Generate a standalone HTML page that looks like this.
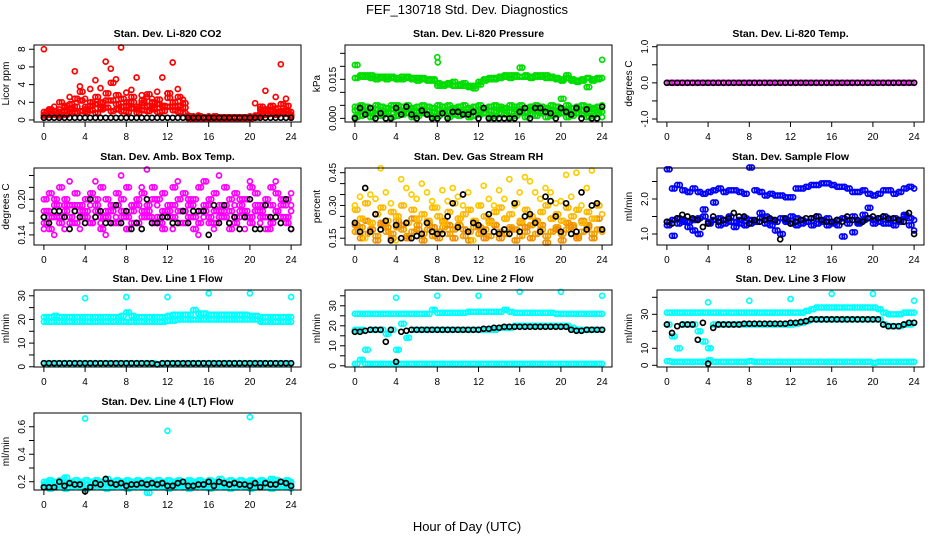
<!DOCTYPE html>
<html><head><meta charset="utf-8"><style>
html,body{margin:0;padding:0;background:#fff;}
svg{display:block;font-family:"Liberation Sans",Arial,sans-serif;}
</style></head><body>
<svg id="chart" width="936" height="540" viewBox="0 0 936 540" xmlns="http://www.w3.org/2000/svg">
<text x="467" y="14" font-size="13" text-anchor="middle">FEF_130718  Std. Dev. Diagnostics</text>
<text x="467" y="531" font-size="13" text-anchor="middle">Hour of Day (UTC)</text>
</svg>
<script>
const hours=[0,0.5,1,1.5,2,2.5,3,3.5,4,4.5,5,5.5,6,6.5,7,7.5,8,8.5,9,9.5,10,10.5,11,11.5,12,12.5,13,13.5,14,14.5,15,15.5,16,16.5,17,17.5,18,18.5,19,19.5,20,20.5,21,21.5,22,22.5,23,23.5,24];
const outHours=[4,8,12,16,20,24];
const xTicks=[0,4,8,12,16,20,24];

const co2Red1=[8,1.0,1.5,1.2,1.4,2.6,5.5,3.8,2.4,3.5,4.5,3.6,6.6,5.8,4.6,8.2,3.1,3.4,4.8,2.8,2.6,2.4,3.2,4.8,3.0,6.5,3.5,2.3,0.5,0.4,0.5,0.3,0.4,0.3,0.3,0.3,0.3,0.3,0.3,0.3,0.4,1.9,1.2,3.3,1.5,2.6,6.3,2.4,0.9];
const co2Red2=[0.6,0.8,1.0,0.9,1.0,1.8,1.5,2.2,1.5,2.0,1.8,2.0,3.0,2.2,1.8,2.4,1.6,2.0,1.5,1.9,1.6,2.0,1.8,1.6,3.0,2.0,1.6,1.4,0.3,0.3,0.4,0.3,0.3,0.4,0.3,0.3,0.3,0.3,0.3,0.3,0.3,0.5,0.8,1.2,1.0,1.3,1.0,1.6,0.6];
const co2Red3=[0.5,0.6,0.7,0.5,0.6,0.9,0.8,1.0,0.9,1.1,0.8,1.2,1.4,1.0,1.2,1.0,0.9,1.3,0.8,1.1,1.0,1.2,0.9,1.0,1.5,1.1,0.9,0.8,0.2,0.2,0.2,0.2,0.2,0.2,0.2,0.2,0.2,0.2,0.2,0.2,0.2,0.3,0.5,0.6,0.7,0.6,0.8,0.7,0.4];
const co2Red4=[0.9,1.2,0.6,2.0,1.6,1.2,2.4,3.2,1.2,1.6,2.6,1.4,2.2,4.2,2.8,1.5,2.0,2.6,1.2,2.2,2.9,1.4,2.3,1.5,2.5,1.5,2.6,1.9,0.4,0.3,0.3,0.3,0.3,0.3,0.3,0.3,0.3,0.3,0.3,0.3,0.3,0.3,1.5,1.0,1.6,0.9,1.8,1.0,0.5];
const co2Black=[0.25,0.25,0.25,0.25,0.25,0.25,0.25,0.25,0.25,0.25,0.25,0.25,0.25,0.25,0.25,0.25,0.25,0.25,0.25,0.25,0.25,0.25,0.25,0.25,0.25,0.25,0.25,0.25,0.25,0.25,0.25,0.25,0.25,0.25,0.25,0.25,0.25,0.25,0.25,0.25,0.25,0.25,0.25,0.25,0.25,0.25,0.25,0.25,0.25];

const presG1=[0.0205,0.0165,0.016,0.0165,0.016,0.0155,0.016,0.0155,0.015,0.016,0.0155,0.015,0.0155,0.015,0.015,0.0145,0.0125,0.013,0.0135,0.014,0.0125,0.0125,0.012,0.0115,0.014,0.015,0.015,0.0155,0.0155,0.016,0.0165,0.0165,0.0195,0.016,0.016,0.0165,0.016,0.0165,0.0155,0.015,0.0145,0.0165,0.0145,0.0145,0.0145,0.012,0.015,0.0155,0.0225];
const presG1b=[0.0155,0.016,0.0165,0.0155,0.015,0.016,0.015,0.016,0.0155,0.015,0.016,0.0155,0.0145,0.0155,0.0145,0.015,0.0135,0.0125,0.013,0.0125,0.013,0.0135,0.0125,0.0125,0.013,0.0145,0.0155,0.015,0.016,0.0165,0.0155,0.016,0.016,0.0165,0.0155,0.016,0.0165,0.0155,0.016,0.0155,0.015,0.0155,0.015,0.014,0.015,0.0155,0.0145,0.015,0.0155];
const presG2=[0.0045,0.005,0.0045,0.004,0.005,0.0045,0.004,0.005,0.005,0.0045,0.005,0.004,0.0045,0.005,0.0045,0.004,0.005,0.0045,0.005,0.004,0.0045,0.005,0.004,0.0045,0.005,0.004,0.0045,0.005,0.0045,0.004,0.005,0.0045,0.005,0.004,0.0045,0.005,0.0045,0.004,0.005,0.0045,0.0075,0.005,0.004,0.0045,0.005,0.0045,0.004,0.0045,0.005];
const presG3=[0.0005,0.001,0.002,0.0005,0.0015,0.001,0.002,0.0005,0.001,0.0015,0.002,0.0005,0.001,0.002,0.0015,0.0005,0.001,0.002,0.0005,0.0015,0.001,0.002,0.0005,0.001,0.0015,0.002,0.0005,0.001,0.002,0.0015,0.0005,0.001,0.002,0.0005,0.0015,0.001,0.002,0.0005,0.001,0.0015,0.002,0.0005,0.001,0.002,0.0015,0.0005,0.001,0.002,0.0005];
const presG4=[0.003,0.0035,0.003,0.0025,0.0035,0.003,0.0025,0.0035,0.003,0.0025,0.0035,0.003,0.0025,0.0035,0.003,0.0025,0.0035,0.003,0.0025,0.0035,0.003,0.0025,0.0035,0.003,0.0025,0.0035,0.003,0.0025,0.0035,0.003,0.0025,0.0035,0.003,0.0025,0.0035,0.003,0.0025,0.0035,0.003,0.0025,0.0035,0.003,0.0025,0.0035,0.003,0.0025,0.0035,0.003,0.0025];
const presOutHours=[8,8.05];
const presOut=[0.0235,0.0215];
const presBlack=[0,0.004,0.0015,0.004,0,0.002,0,0,0.004,0.0015,0.0045,0.0015,0,0.003,0.0015,0,0,0.002,0,0.0025,0.0025,0.0015,0.0015,0.0025,0,0.004,0,0,0,0,0,0,0.0025,0.004,0,0.004,0.004,0.0025,0.002,0,0.004,0.0025,0.0015,0.004,0,0.0035,0,0,0.0045];

const tempMag=[0,0,0,0,0,0,0,0,0,0,0,0,0,0,0,0,0,0,0,0,0,0,0,0,0,0,0,0,0,0,0,0,0,0,0,0,0,0,0,0,0,0,0,0,0,0,0,0,0];
const tempBlack=[0,0,0,0,0,0,0,0,0,0,0,0,0,0,0,0,0,0,0,0,0,0,0,0,0,0,0,0,0,0,0,0,0,0,0,0,0,0,0,0,0,0,0,0,0,0,0,0,0];

const ambM1=[0.20,0.21,0.19,0.22,0.20,0.19,0.21,0.19,0.20,0.21,0.19,0.22,0.20,0.19,0.21,0.20,0.22,0.19,0.20,0.21,0.19,0.22,0.20,0.21,0.19,0.22,0.20,0.21,0.19,0.20,0.22,0.23,0.20,0.21,0.19,0.22,0.20,0.21,0.19,0.20,0.22,0.21,0.19,0.20,0.22,0.21,0.19,0.20,0.21];
const ambM2=[0.16,0.15,0.17,0.16,0.18,0.17,0.16,0.18,0.17,0.16,0.18,0.15,0.17,0.18,0.16,0.17,0.15,0.18,0.16,0.17,0.18,0.16,0.17,0.15,0.18,0.17,0.16,0.18,0.17,0.15,0.16,0.18,0.17,0.16,0.18,0.17,0.15,0.16,0.18,0.17,0.16,0.18,0.17,0.15,0.16,0.18,0.17,0.16,0.18];
const ambM3=[0.15,0.18,0.14,0.19,0.15,0.23,0.18,0.15,0.17,0.19,0.23,0.16,0.14,0.19,0.17,0.24,0.15,0.19,0.16,0.22,0.25,0.17,0.19,0.16,0.18,0.15,0.23,0.18,0.16,0.19,0.14,0.17,0.19,0.15,0.24,0.18,0.16,0.19,0.17,0.15,0.23,0.18,0.16,0.19,0.15,0.23,0.17,0.19,0.15];
const ambM4=[0.18,0.17,0.20,0.17,0.19,0.16,0.19,0.17,0.18,0.16,0.20,0.17,0.18,0.16,0.19,0.18,0.17,0.16,0.19,0.18,0.17,0.20,0.16,0.18,0.17,0.19,0.18,0.16,0.20,0.17,0.18,0.19,0.16,0.18,0.17,0.19,0.18,0.17,0.20,0.18,0.17,0.19,0.18,0.17,0.19,0.18,0.20,0.17,0.19];
const ambBlack=[0.17,0.16,0.18,0.18,0.17,0.15,0.18,0.17,0.16,0.20,0.17,0.18,0.16,0.16,0.19,0.16,0.18,0.15,0.16,0.15,0.20,0.16,0.16,0.17,0.17,0.16,0.16,0.18,0.16,0.18,0.18,0.18,0.14,0.19,0.16,0.19,0.16,0.17,0.15,0.17,0.20,0.15,0.15,0.19,0.17,0.17,0.16,0.20,0.15];

const rhO1=[0.18,0.20,0.17,0.19,0.16,0.21,0.18,0.17,0.20,0.19,0.16,0.18,0.21,0.17,0.19,0.16,0.18,0.20,0.17,0.19,0.21,0.16,0.18,0.20,0.17,0.19,0.16,0.21,0.18,0.17,0.20,0.19,0.16,0.18,0.21,0.17,0.19,0.16,0.18,0.20,0.17,0.19,0.21,0.16,0.18,0.20,0.17,0.19,0.18];
const rhO2=[0.28,0.24,0.31,0.22,0.26,0.29,0.23,0.27,0.25,0.30,0.22,0.28,0.24,0.26,0.23,0.29,0.25,0.22,0.27,0.31,0.24,0.26,0.28,0.23,0.30,0.25,0.22,0.27,0.29,0.24,0.26,0.31,0.23,0.28,0.25,0.22,0.27,0.30,0.24,0.26,0.23,0.29,0.25,0.28,0.22,0.27,0.24,0.30,0.26];
const rhO3=[0.30,0.34,0.15,0.35,0.33,0.47,0.36,0.31,0.14,0.42,0.38,0.35,0.33,0.40,0.36,0.32,0.29,0.37,0.32,0.38,0.34,0.30,0.36,0.14,0.30,0.39,0.33,0.30,0.37,0.33,0.42,0.30,0.36,0.43,0.41,0.36,0.33,0.38,0.36,0.31,0.32,0.44,0.34,0.45,0.30,0.38,0.46,0.31,0.19];
const rhO4=[0.21,0.15,0.23,0.19,0.14,0.22,0.20,0.15,0.23,0.21,0.15,0.24,0.19,0.14,0.22,0.20,0.15,0.23,0.21,0.15,0.24,0.19,0.14,0.22,0.20,0.15,0.23,0.21,0.15,0.24,0.19,0.14,0.22,0.20,0.15,0.23,0.21,0.13,0.24,0.19,0.14,0.22,0.20,0.15,0.23,0.21,0.15,0.24,0.19];
const rhBlack=[0.22,0.18,0.38,0.18,0.26,0.19,0.23,0.14,0.21,0.15,0.22,0.15,0.16,0.17,0.22,0.18,0.17,0.17,0.25,0.31,0.20,0.35,0.18,0.22,0.21,0.18,0.26,0.18,0.17,0.19,0.17,0.31,0.18,0.25,0.26,0.22,0.18,0.34,0.32,0.25,0.18,0.31,0.17,0.18,0.36,0.19,0.30,0.31,0.19];

const flowB1=[2.85,2.3,2.4,2.25,2.2,2.3,2.2,2.15,2.2,2.25,2.3,2.2,2.25,2.25,2.2,2.15,2.9,2.25,2.2,2.1,2.15,2.1,2.1,2.05,2.05,2.3,2.3,2.35,2.4,2.4,2.45,2.45,2.4,2.35,2.35,2.3,2.2,2.2,2.25,2.15,2.1,2.15,2.25,2.25,2.15,2.2,2.3,2.35,2.3];
const flowB2=[1.35,1.4,1.45,1.4,1.35,1.4,1.45,1.5,1.35,1.4,1.45,1.4,1.5,1.35,1.4,1.45,1.4,1.35,1.45,1.5,1.4,1.35,1.45,1.4,1.5,1.45,1.4,1.35,1.45,1.5,1.4,1.45,1.35,1.4,1.45,1.4,1.5,1.35,1.4,1.45,1.4,1.45,1.5,1.4,1.45,1.4,1.5,1.45,1.4];
const flowB3=[1.25,0.95,1.3,1.35,1.2,1.1,1.0,1.7,1.3,1.9,1.25,1.3,1.35,1.2,1.3,1.25,1.3,1.35,1.6,1.3,1.25,1.1,1.0,1.35,1.3,1.25,1.3,1.35,1.25,1.3,1.35,1.25,1.3,1.25,0.93,1.3,1.05,1.3,1.55,1.75,1.3,1.35,1.3,1.3,1.25,1.35,1.55,1.25,1.1];
const flowBlack=[1.35,1.3,1.45,1.55,1.5,1.45,1.4,1.2,1.3,1.5,1.35,1.4,1.45,1.6,1.5,1.5,1.3,1.4,1.35,1.4,1.45,1.4,0.85,1.45,1.3,1.35,1.4,1.45,1.45,1.5,1.4,1.35,1.35,1.4,1.35,1.5,1.4,1.4,1.35,1.45,1.5,1.45,1.5,1.45,1.45,1.4,1.35,1.6,1.0];

const l1C1=[21,21,21.5,21,21,21,21,21,21,21,21,21,21,21,21,21.5,23,21.5,21,21,21,21,21,21,21.5,22,22,22,22,24,22.5,22.5,22,22,22,22,22,22,22,22,21.5,21.5,21,21,21,21,21,21,21];
const l1C2=[19,19,19,19,19,19,19,19,19,19,19,19,19,19,19,19,19,19,19,19,19,19,19,19,19.5,19.5,20,20,20,20,20,20,20,20,20,20,20,20,20,20,20,20,19,19,19,19,19,19,19];
const l1C3=[1.5,1.5,1.5,1.5,1.5,1.5,1.5,1.5,1.5,1.5,1.5,1.5,1.5,1.5,1.5,1.5,1.5,1.5,1.5,1.5,1.5,1.5,1,1.5,1.5,1.5,1.5,1.5,1.5,1.5,1.5,1.5,1.5,1.5,1.5,1.5,1.5,1.5,1.5,1.5,1.5,1.5,1.5,1.5,1.5,1.5,1.5,1.5,1.5];
const l1Out=[29,29.5,29.5,31,31,29.5];
const l1Black=[1.5,1.5,1.5,1.5,1.5,1.5,1.5,1.5,1.5,1.5,1.5,1.5,1.5,1.5,1.5,1.5,1.5,1.5,1.5,1.5,1.5,1.5,1,1.5,1.5,1.5,1.5,1.5,1.5,1.5,1.5,1.5,1.5,1.5,1.5,1.5,1.5,1.5,1.5,1.5,1.5,1.5,1.5,1.5,1.5,1.5,1.5,1.5,1.5];

const l2C1=[26,26,26,26,26,26,26,26,26,26,26,26,26,26,26,28,26.5,26.5,26.5,26.5,26.5,26.5,27,27,27,27,27,27,27,28,27,26.5,26.5,26.5,26.5,26.5,26.5,26.5,26.5,26,26,26,26,26,26,26,26,26,26];
const l2C2=[18,18,8,18,18,18,16,18,8,21,14,18,18,18,18,18,18,18,18,18,18,18,18,18,18,18,18,18,19,19,19,20,20,20,20,20,20,20,20,20,20,20,19,18,18,18,18,18,18];
const l2C3=[1,3,1,1,1,1,1,1,1,1,1,1,1,1,1,1,1,1,1,1,1,1,1,1,1,1,1,1,1,1,1,1,1,1,1,1,1,1,1,1,1,1,1,1,1,1,1,1,1];
const l2Out=[34,35,35,37,37,35];
const l2Black=[17,17,17.5,18,18,18,12,18,2,17,17.5,18,18,18,18,18,18,18,18,18,18,18,18,18,18,18.5,18.5,19,19,19.5,19.5,19.5,19.5,19.5,19.5,19.5,19.5,19.5,19.5,19.5,19.5,19.5,18,17.5,17.5,18,18,18,18];

const l3C1=[31,31,31,31,31,31,31,31,31,31,31,31,31,31,31,31,31,31,31,31,31,31,31,31,31,31,31,32,33,34,34,34,34,34,34,34,34,34,34,34,34,33,31,30,30,30,31,31,31];
const l3C2=[24,17,10,24,24,24,20,14,10,24,24,24,24,24,24,24,24,24,24,24,24,24,24,24,24,24.5,25,26,27,27,27,27,27,27,27,27,27,27,27,27,27,27,24,23,23,23,24,24,25];
const l3C3=[2.5,2,2,2,2,2,2,2,3,2,2,2,2,2,2,2,2.5,2,2,2,2,2,2,2,2,2,2,2,2,2,2,2,2,2,2,2,2,2,2,2,1.5,2,2,2,2,2,2,2,2];
const l3Out=[37,38,39,42,42,38];
const l3Black=[24,19,23,24,24,24,15,25,1,22,24,24,24,24,24,24.5,24.5,24.5,24.5,24.5,24.5,24.5,24.5,24.5,25,25,25.5,26,27,27,27,27,27,27,27,27,27,27,27,27,27,27,24,23,23,23,24,25,25];

const l4C1=[0.18,0.19,0.17,0.18,0.19,0.18,0.17,0.19,0.18,0.17,0.19,0.18,0.19,0.17,0.18,0.19,0.18,0.17,0.19,0.18,0.17,0.19,0.18,0.19,0.17,0.18,0.19,0.18,0.17,0.19,0.18,0.17,0.19,0.18,0.19,0.17,0.18,0.19,0.18,0.17,0.19,0.18,0.17,0.19,0.18,0.19,0.17,0.18,0.19];
const l4C2=[0.16,0.15,0.16,0.17,0.15,0.16,0.17,0.16,0.15,0.16,0.17,0.16,0.15,0.16,0.17,0.16,0.15,0.16,0.17,0.16,0.12,0.16,0.17,0.16,0.15,0.16,0.17,0.16,0.15,0.16,0.17,0.16,0.15,0.16,0.17,0.16,0.15,0.16,0.17,0.16,0.15,0.16,0.17,0.16,0.15,0.16,0.17,0.16,0.15];
const l4C3=[0.20,0.21,0.20,0.21,0.23,0.20,0.21,0.20,0.21,0.20,0.21,0.20,0.22,0.20,0.21,0.20,0.21,0.20,0.21,0.20,0.21,0.20,0.21,0.20,0.21,0.20,0.21,0.20,0.21,0.20,0.21,0.20,0.21,0.20,0.22,0.20,0.21,0.20,0.21,0.20,0.21,0.20,0.21,0.20,0.22,0.21,0.20,0.21,0.20];
const l4OutHours=[4,12,20];
const l4Out=[0.66,0.57,0.67];
const l4Black=[0.16,0.16,0.16,0.2,0.17,0.19,0.18,0.18,0.13,0.16,0.19,0.18,0.22,0.19,0.18,0.19,0.17,0.18,0.18,0.19,0.18,0.19,0.18,0.19,0.17,0.17,0.19,0.2,0.17,0.17,0.18,0.18,0.2,0.17,0.2,0.19,0.18,0.19,0.18,0.18,0.17,0.19,0.16,0.19,0.18,0.18,0.2,0.19,0.17];

const titles=["Stan. Dev. Li-820 CO2","Stan. Dev. Li-820 Pressure","Stan. Dev. Li-820 Temp.","Stan. Dev. Amb. Box Temp.","Stan. Dev. Gas Stream RH","Stan. Dev. Sample Flow","Stan. Dev. Line 1 Flow","Stan. Dev. Line 2 Flow","Stan. Dev. Line 3 Flow","Stan. Dev. Line 4 (LT) Flow"];
const yLabels=["Licor ppm","kPa","degrees C","degrees C","percent","ml/min","ml/min","ml/min","ml/min","ml/min"];
const yTicks=[[0,2,4,6,8],[0,0.005,0.01,0.015,0.02,0.025],[-1,-0.5,0,0.5,1],[0.14,0.16,0.18,0.20,0.22,0.24],[0.15,0.20,0.25,0.30,0.35,0.40,0.45],[1.0,1.5,2.0,2.5],[0,5,10,15,20,25,30],[0,5,10,15,20,25,30,35],[0,10,20,30,40],[0.2,0.3,0.4,0.5,0.6]];
const yTickText=[["0","2","4","6","8"],["0.000","","","0.015","",""],["-1.0","","0.0","","1.0"],["0.14","","","0.20","",""],["0.15","","","0.30","","","0.45"],["1.0","","2.0",""],["0","","10","","20","","30"],["0","","10","","20","","30",""],["0","10","","30",""],["0.2","","0.4","","0.6"]];
const yDomains=[[-0.23,8.48],[-0.0014,0.0282],[-1.083,1.047],[0.123,0.2526],[0.119,0.4715],[0.686,2.886],[-0.1,32.45],[-0.6,37.9],[-1,44.3],[0.14,0.70]];

// [x-array, y-array, colour, dense]
const panelSeries=[
 [[hours,co2Red3,"#ff0000",1],[hours,co2Red2,"#ff0000",1],[hours,co2Red4,"#ff0000",1],[hours,co2Red1,"#ff0000",0],[hours,co2Black,"#000000",0]],
 [[hours,presG3,"#00dd00",1],[hours,presG4,"#00dd00",1],[hours,presG2,"#00dd00",1],[hours,presG1,"#00dd00",1],[hours,presG1b,"#00dd00",1],[presOutHours,presOut,"#00dd00",0],[hours,presBlack,"#000000",0]],
 [[hours,tempMag,"#ff00ff",1],[hours,tempBlack,"#000000",0]],
 [[hours,ambM2,"#ff00ff",1],[hours,ambM4,"#ff00ff",1],[hours,ambM1,"#ff00ff",1],[hours,ambM3,"#ff00ff",0],[hours,ambBlack,"#000000",0]],
 [[hours,rhO1,"#f0a000",1],[hours,rhO4,"#f09000",1],[hours,rhO2,"#ffb800",1],[hours,rhO3,"#ffcc00",0],[hours,rhBlack,"#000000",0]],
 [[hours,flowB2,"#0000ff",1],[hours,flowB3,"#0000ff",1],[hours,flowB1,"#0000ff",1],[hours,flowBlack,"#000000",0]],
 [[hours,l1C1,"#00ffff",1],[hours,l1C2,"#00ffff",1],[hours,l1C3,"#00ffff",1],[outHours,l1Out,"#00ffff",0],[hours,l1Black,"#000000",0]],
 [[hours,l2C1,"#00ffff",1],[hours,l2C2,"#00ffff",1],[hours,l2C3,"#00ffff",1],[outHours,l2Out,"#00ffff",0],[hours,l2Black,"#000000",0]],
 [[hours,l3C1,"#00ffff",1],[hours,l3C2,"#00ffff",1],[hours,l3C3,"#00ffff",1],[outHours,l3Out,"#00ffff",0],[hours,l3Black,"#000000",0]],
 [[hours,l4C1,"#00ffff",1],[hours,l4C2,"#00ffff",1],[hours,l4C3,"#00ffff",1],[l4OutHours,l4Out,"#00ffff",0],[hours,l4Black,"#000000",0]]
];

const NS="http://www.w3.org/2000/svg";
const svg=document.getElementById('chart');
function mk(tag,attrs,parent){const e=document.createElementNS(NS,tag);for(const k in attrs)e.setAttribute(k,attrs[k]);parent.appendChild(e);return e;}
const colLeft=[34,345,657], rowTop=[45,168,290,413], W=267, H=77;
const xDom=[-0.96,24.96];
for(let p=0;p<10;p++){
  const L=colLeft[p%3], T=rowTop[Math.floor(p/3)];
  const g=mk('g',{},svg);
  
  
  const xs=v=>L+(v-xDom[0])/(xDom[1]-xDom[0])*W;
  const yd=yDomains[p];
  const ys=v=>T+H-(v-yd[0])/(yd[1]-yd[0])*H;
  const t=mk('text',{x:L+W/2,y:T-8,'font-size':'10.5','font-weight':'bold','text-anchor':'middle'},g);
  
  
  t.textContent=titles[p];
  const yl=mk('text',{x:0,y:0,'font-size':'10','text-anchor':'middle',transform:`translate(${L-25},${T+H/2}) rotate(-90)`},g);
  
  
  yl.textContent=yLabels[p];
  const sg=mk('g',{fill:'none','stroke-width':'1.7'},g);
  
  
  panelSeries[p].forEach(s=>{
    const xa=s[0], ya=s[1];
    for(let i=0;i<ya.length;i++){
      const offs=s[3]?[0,0.25]:[0];
      offs.forEach(o=>{
        if(xa[i]+o>24.01)return;
        const c=mk('circle',{cx:xs(xa[i]+o).toFixed(1),cy:ys(ya[i]).toFixed(1),r:'2.5',stroke:s[2]},sg);
        
        
      });
    }
  });
  const box=mk('rect',{x:L,y:T,width:W,height:H,fill:'none',stroke:'#000','stroke-width':'1'},g);
  
  
  const xa=mk('g',{},g);
  
  
  mk('line',{x1:xs(0),x2:xs(24),y1:T+H,y2:T+H,stroke:'#000'},xa);
  xTicks.forEach(v=>{
    mk('line',{x1:xs(v),x2:xs(v),y1:T+H,y2:T+H+5,stroke:'#000'},xa);
    const tl=mk('text',{x:xs(v),y:T+H+18,'font-size':'10','text-anchor':'middle'},xa);
    
    
    tl.textContent=v;
  });
  const ya=mk('g',{},g);
  
  
  const tk=yTicks[p];
  mk('line',{x1:L,x2:L,y1:ys(tk[0]),y2:ys(tk[tk.length-1]),stroke:'#000'},ya);
  tk.forEach((v,i)=>{
    mk('line',{x1:L-5,x2:L,y1:ys(v),y2:ys(v),stroke:'#000'},ya);
    const s=yTickText[p][i];
    if(s){
      const tl=mk('text',{x:0,y:0,'font-size':'10','text-anchor':'middle',transform:`translate(${L-9},${ys(v)}) rotate(-90)`},ya);
      
      
      tl.textContent=s;
    }
  });
}
</script>
</body></html>
